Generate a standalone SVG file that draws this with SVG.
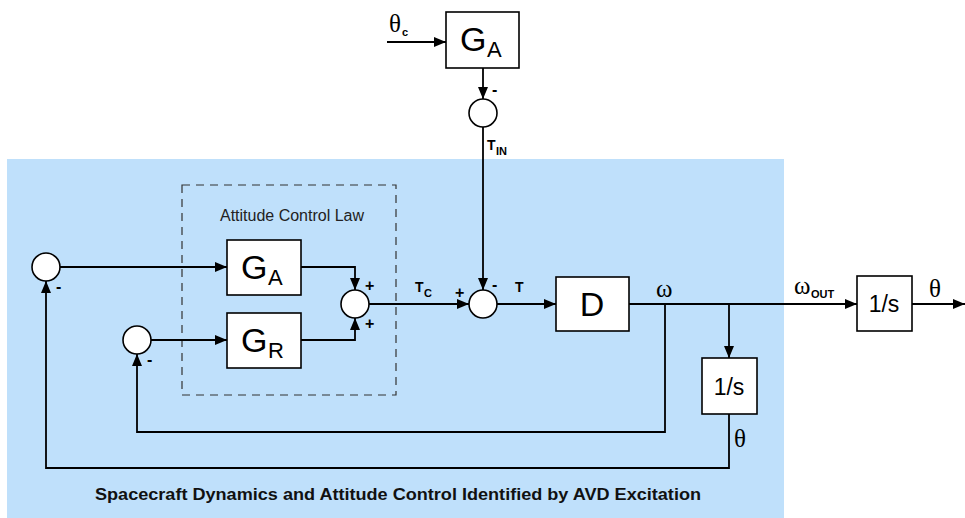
<svg xmlns="http://www.w3.org/2000/svg" width="965" height="518" viewBox="0 0 965 518">
<style>
.box{fill:#fff;stroke:#000;stroke-width:1.6}
.sum{fill:#fff;stroke:#000;stroke-width:1.6}
.ln{fill:none;stroke:#000;stroke-width:1.8;marker-end:url(#ah)}
.big{font-family:"Liberation Sans",Arial,sans-serif;font-size:34px;fill:#000}
.sub{font-family:"Liberation Sans",Arial,sans-serif;font-size:22px;fill:#000}
.mid{font-family:"Liberation Sans",Arial,sans-serif;font-size:23px;fill:#000}
.lbl{font-family:"Liberation Sans",Arial,sans-serif;font-size:14px;font-weight:bold;fill:#000}
.lsub{font-family:"Liberation Sans",Arial,sans-serif;font-size:11px;font-weight:bold;fill:#000}
.gr{font-family:"Liberation Serif","Times New Roman",serif;font-size:25px;fill:#000}
.sign{font-family:"Liberation Sans",Arial,sans-serif;font-size:16px;font-weight:bold;fill:#000}
</style>
<defs>
<marker id="ah" markerUnits="userSpaceOnUse" markerWidth="12" markerHeight="10" refX="12" refY="5" orient="auto">
<path d="M0,0 L12,5 L0,10 z" fill="#000"/>
</marker>
</defs>
<rect id="bg" x="7" y="159" width="777" height="359" fill="#bfe0fb"/>
<g id="acl">
<rect x="182" y="185" width="214" height="210" fill="none" stroke="#333" stroke-width="1.2" stroke-dasharray="8,6"/>
<text x="292" y="221" text-anchor="middle" font-family="'Liberation Sans',Arial,sans-serif" font-size="16" fill="#222">Attitude Control Law</text>
</g>
<g id="connectors">
<path class="ln" d="M387,42 H446"/>
<path class="ln" d="M483,68 V99"/>
<path class="ln" d="M483,127 V290"/>
<path class="ln" d="M60,267 H227"/>
<path class="ln" d="M301,267 H355 V290"/>
<path class="ln" d="M151,340 H227"/>
<path class="ln" d="M301,340 H355 V318"/>
<path class="ln" d="M369,304 H469"/>
<path class="ln" d="M497,304 H556"/>
<path class="ln" d="M629,304 H857"/>
<path class="ln" d="M729,304 V358"/>
<path class="ln" d="M912,304 H965"/>
<path class="ln" d="M665,304 V432 H137 V354"/>
<path class="ln" d="M729,414 V468 H46 V281"/>
</g>
<g id="GA_top">
<rect class="box" x="446" y="12" width="73" height="56"/>
<text class="big" x="460" y="51">G</text><text class="sub" x="487" y="57">A</text>
</g>
<g id="sum_top">
<circle class="sum" cx="483" cy="113" r="14"/>
</g>
<g id="sum_left">
<circle class="sum" cx="46" cy="267" r="14"/>
</g>
<g id="sum_rate">
<circle class="sum" cx="137" cy="340" r="14"/>
</g>
<g id="GA">
<rect class="box" x="227" y="240" width="74" height="55"/>
<text class="big" x="241" y="279">G</text><text class="sub" x="268" y="285">A</text>
</g>
<g id="GR">
<rect class="box" x="227" y="313" width="74" height="55"/>
<text class="big" x="241" y="352">G</text><text class="sub" x="268" y="358">R</text>
</g>
<g id="sum_ctrl">
<circle class="sum" cx="355" cy="304" r="14"/>
</g>
<g id="sum_T">
<circle class="sum" cx="483" cy="304" r="14"/>
</g>
<g id="D">
<rect class="box" x="556" y="277" width="73" height="54"/>
<text class="big" x="592" y="316" text-anchor="middle">D</text>
</g>
<g id="int_inner">
<rect class="box" x="702" y="358" width="55" height="56"/>
<text class="mid" x="729" y="395" text-anchor="middle">1/s</text>
</g>
<g id="int_out">
<rect class="box" x="857" y="276" width="55" height="55"/>
<text class="mid" x="884" y="312" text-anchor="middle">1/s</text>
</g>
<g id="labels">
<text class="gr" x="389" y="32">θ</text><text class="lsub" x="402" y="36">c</text>
<text class="sign" x="492" y="95">-</text>
<text class="lbl" x="487" y="150">T</text><text class="lsub" x="496" y="155">IN</text>
<text class="sign" x="56" y="292">-</text>
<text class="sign" x="147" y="365">-</text>
<text class="sign" x="365" y="291">+</text>
<text class="sign" x="365" y="329">+</text>
<text class="lbl" x="415" y="292">T</text><text class="lsub" x="424" y="297">C</text>
<text class="sign" x="455" y="298">+</text>
<text class="sign" x="492" y="290">-</text>
<text class="lbl" x="515" y="292">T</text>
<text class="gr" x="656" y="297">ω</text>
<text class="gr" x="794" y="294">ω</text><text class="lsub" x="811" y="298">OUT</text>
<text class="gr" x="929" y="297">θ</text>
<text class="gr" x="734" y="447">θ</text>
<text x="398" y="500" text-anchor="middle" font-family="'Liberation Sans',Arial,sans-serif" font-size="16" font-weight="bold" fill="#111" textLength="606" lengthAdjust="spacingAndGlyphs">Spacecraft Dynamics and Attitude Control Identified by AVD Excitation</text>
</g>
</svg>
